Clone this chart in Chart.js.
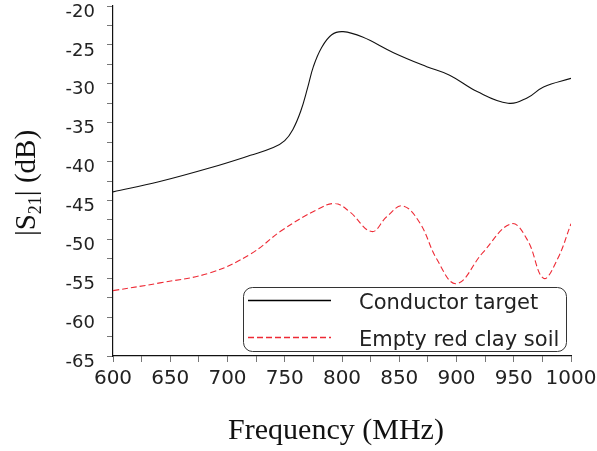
<!DOCTYPE html>
<html>
<head>
<meta charset="utf-8">
<script src="https://cdn.jsdelivr.net/npm/chart.js@4/dist/chart.umd.min.js"></script>
<style>
  html, body { margin: 0; padding: 0; background: #fff; }
  canvas { display: block; }
</style>
</head>
<body>
<canvas id="chart" width="597" height="451"></canvas>
<script>
// values
const conductorFreq = [600, 640, 685, 720, 740, 750, 757, 764, 770, 775, 782, 791, 801, 818, 845, 874, 894, 918, 945, 962, 976, 1000];
const conductorDb = [-43.9, -42.6, -40.8, -39.2, -38.2, -37.3, -35.9, -33.5, -30.5, -27.8, -25.4, -23.7, -23.3, -24.0, -26.0, -27.8, -28.9, -31.0, -32.5, -31.8, -30.4, -29.3];

const soilFreq = [600, 641, 685, 720, 748, 778, 794, 807, 826, 839, 853, 868, 883, 900, 923, 948, 962, 976, 988, 1000];
const soilDb = [-56.6, -55.6, -54.3, -51.9, -48.8, -46.2, -45.4, -46.5, -49.0, -47.1, -45.7, -47.9, -52.6, -55.7, -51.7, -48.0, -50.1, -55.0, -52.6, -48.0];

const seriesNames = ["Conductor target", "Empty red clay soil"];
const xTitle = "Frequency (MHz)";

const textColor = "#222";
const redColor = "#ee2a35";

const toPoints = (xs, ys) => xs.map((x, i) => ({ x: x, y: ys[i] }));

// axis titles + legend box, drawn by hand
const extras = {
  id: "extras",
  afterDraw(chart) {
    const ctx = chart.ctx;
    const area = chart.chartArea;
    ctx.save();
    ctx.fillStyle = "#111";

    // x title
    ctx.font = "30px 'Liberation Serif'";
    ctx.textAlign = "center";
    ctx.textBaseline = "alphabetic";
    ctx.fillText(xTitle, 336, 439);

    // y title with subscript
    const parts = [["|S", 29, 0], ["21", 18, 6], ["| (dB)", 29, 0]];
    let total = 0;
    parts.forEach((p) => {
      ctx.font = p[1] + "px 'Liberation Serif'";
      total += ctx.measureText(p[0]).width;
    });
    ctx.translate(35, 183);
    ctx.rotate(-Math.PI / 2);
    ctx.textAlign = "left";
    let x = -total / 2;
    parts.forEach((p) => {
      ctx.font = p[1] + "px 'Liberation Serif'";
      ctx.fillText(p[0], x, p[2]);
      x += ctx.measureText(p[0]).width;
    });
    ctx.restore();

    // legend
    ctx.save();
    const lx = 243, ly = 287, lw = 323, lh = 64, r = 9;
    ctx.fillStyle = "#fff";
    ctx.strokeStyle = "#333";
    ctx.lineWidth = 1;
    ctx.beginPath();
    ctx.roundRect(lx + 0.5, ly + 0.5, lw, lh, r);
    ctx.fill();
    ctx.stroke();

    const rows = [
      { y: 300, color: "#000", dash: [] },
      { y: 337, color: redColor, dash: [6, 3] },
    ];
    ctx.font = "21px 'DejaVu Sans'";
    ctx.textAlign = "left";
    ctx.textBaseline = "middle";
    rows.forEach((row, i) => {
      ctx.strokeStyle = row.color;
      ctx.setLineDash(row.dash);
      ctx.lineWidth = 1.3;
      ctx.beginPath();
      ctx.moveTo(248, row.y + 0.5);
      ctx.lineTo(331, row.y + 0.5);
      ctx.stroke();
      ctx.fillStyle = textColor;
      ctx.fillText(seriesNames[i], 359, row.y + 4);
    });
    ctx.restore();
  },
};

new Chart(document.getElementById("chart"), {
  type: "line",
  data: {
    datasets: [
      {
        label: seriesNames[0],
        data: toPoints(conductorFreq, conductorDb),
        borderColor: "#111",
        borderWidth: 1.1,
        pointRadius: 0,
        tension: 0.4,
      },
      {
        label: seriesNames[1],
        data: toPoints(soilFreq, soilDb),
        borderColor: redColor,
        borderWidth: 1.1,
        borderDash: [6, 3],
        pointRadius: 0,
        tension: 0.4,
      },
    ],
  },
  options: {
    responsive: false,
    animation: false,
    layout: { padding: { top: 6, right: 26, left: 0, bottom: 0 } },
    plugins: {
      legend: { display: false },
      tooltip: { enabled: false },
    },
    scales: {
      x: {
        type: "linear",
        min: 600,
        max: 1000,
        border: { display: true, color: "#111", width: 1.2 },
        grid: { drawOnChartArea: false, drawTicks: true, tickLength: 6, tickColor: "#777" },
        ticks: {
          stepSize: 25,
          padding: 5,
          color: textColor,
          font: { family: "'DejaVu Sans'", size: 20 },
          maxRotation: 0,
          autoSkip: false,
          callback: (v) => (v % 50 === 0 ? String(v) : ""),
        },
        afterFit: (scale) => {
          scale.height = 95;
          scale.paddingRight = 0;
          scale.paddingLeft = 0;
        },
      },
      y: {
        min: -65,
        max: -20,
        border: { display: true, color: "#111", width: 1.2 },
        grid: { drawOnChartArea: false, drawTicks: true, tickLength: 6, tickColor: "#777" },
        ticks: {
          stepSize: 2.5,
          padding: 12,
          labelOffset: 6,
          color: textColor,
          font: { family: "'DejaVu Sans'", size: 18 },
          autoSkip: false,
          callback: (v) => (v % 5 === 0 ? String(v) : ""),
        },
        afterFit: (scale) => {
          scale.width = 113;
          scale.paddingTop = 0;
          scale.paddingBottom = 0;
        },
      },
    },
  },
  plugins: [extras],
});
</script>
</body>
</html>
